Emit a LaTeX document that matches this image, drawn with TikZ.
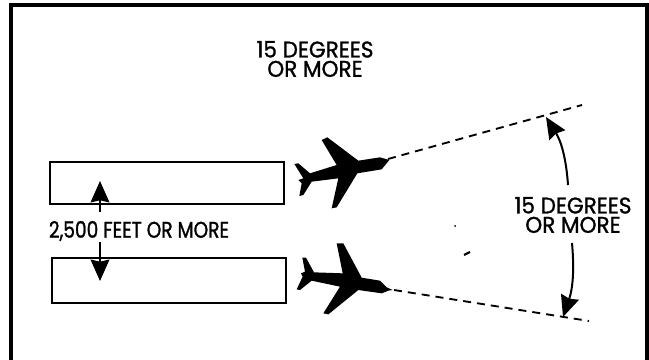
\documentclass[tikz,border=0pt]{standalone}
\usepackage{fontspec}
\setmainfont[FakeStretch=0.95,FakeBold=1.2]{Poppins}
\usetikzlibrary{arrows.meta}
\tikzset{
    framelines/.style={line width=2.6pt,line cap=round},
    stripbox/.style={line width=1.4pt},
    sizearrow/.style={line width=1.5pt,-{Stealth[length=16pt,width=14pt,inset=1.5pt]}},
    heading/.style={inner sep=0pt,align=center,font=\fontsize{17}{14.5}\selectfont},
    track/.style={line width=1.4pt,dash pattern=on 6pt off 4.5pt},
}
\begin{document}
\begin{tikzpicture}[x=0.75pt,y=-0.75pt]
    \useasboundingbox (0,0) rectangle (649,360);
    % frame, open at the bottom
    \draw[framelines] (11,360) -- (11,5) -- (647,5) -- (647,360);
    % runways
    \draw[stripbox] (50,162) rectangle (284,204);
    \draw[stripbox] (52,258) rectangle (286,303);
    % labels
    \node[heading] (toplabel) at (315,59) {15 DEGREES\\OR MORE};
    \node[heading] (sidelabel) at (573,215) {15 DEGREES\\OR MORE};
    \node[heading] (gaplabel) at (139,231) {\addfontfeature{FakeStretch=0.82}2,500 FEET OR MORE};
    % separation arrows
    \coordinate (upfoot) at (100,212);
    \coordinate (uptip) at (100,181);
    \coordinate (downfoot) at (100,242);
    \coordinate (downtip) at (100,281);
    \draw[sizearrow] (upfoot) -- (uptip);
    \draw[sizearrow] (downfoot) -- (downtip);
    % upper aircraft
    \fill[shift={(270,120)},scale=1/3]
        (358,120) -- (330,112) -- (265,122) -- (172,52) -- (155,60) -- (200,135)
        -- (120,160) -- (85,130) -- (73,132) -- (100,175) -- (85,180) -- (95,190)
        -- (88,228) -- (100,225) -- (125,185) -- (205,175) -- (185,265) -- (200,262)
        -- (262,160) -- (335,148) -- (350,130) -- cycle;
    % lower aircraft
    \fill[shift={(290,230)},scale=1/3]
        (308,180) -- (290,172) -- (270,152) -- (215,143) -- (160,40) -- (140,40)
        -- (158,130) -- (72,127) -- (48,83) -- (37,83) -- (45,125) -- (33,130)
        -- (38,140) -- (20,178) -- (30,180) -- (65,152) -- (150,170) -- (100,250)
        -- (115,253) -- (205,180) -- (275,190) -- (295,182) -- cycle;
    % heading lines
    \coordinate (nosea) at (388,159);
    \coordinate (enda) at (582,105);
    \coordinate (noseb) at (394,290);
    \coordinate (endb) at (589,321);
    \draw[track] (nosea) -- (enda);
    \draw[track] (noseb) -- (endb);
    % angle arrows
    \coordinate (anglefoota) at (568,185);
    \coordinate (angletipa) at (546,117);
    \coordinate (anglefootb) at (572,243);
    \coordinate (angletipb) at (563,317);
    \draw[sizearrow] (anglefoota) to[bend right=14] (angletipa);
    \draw[sizearrow] (anglefootb) to[bend left=12] (angletipb);
    % print specks
    \draw[line width=1.6pt] (464,255) -- (470,252);
    \fill (455,226) circle (1);
\end{tikzpicture}
\end{document}
